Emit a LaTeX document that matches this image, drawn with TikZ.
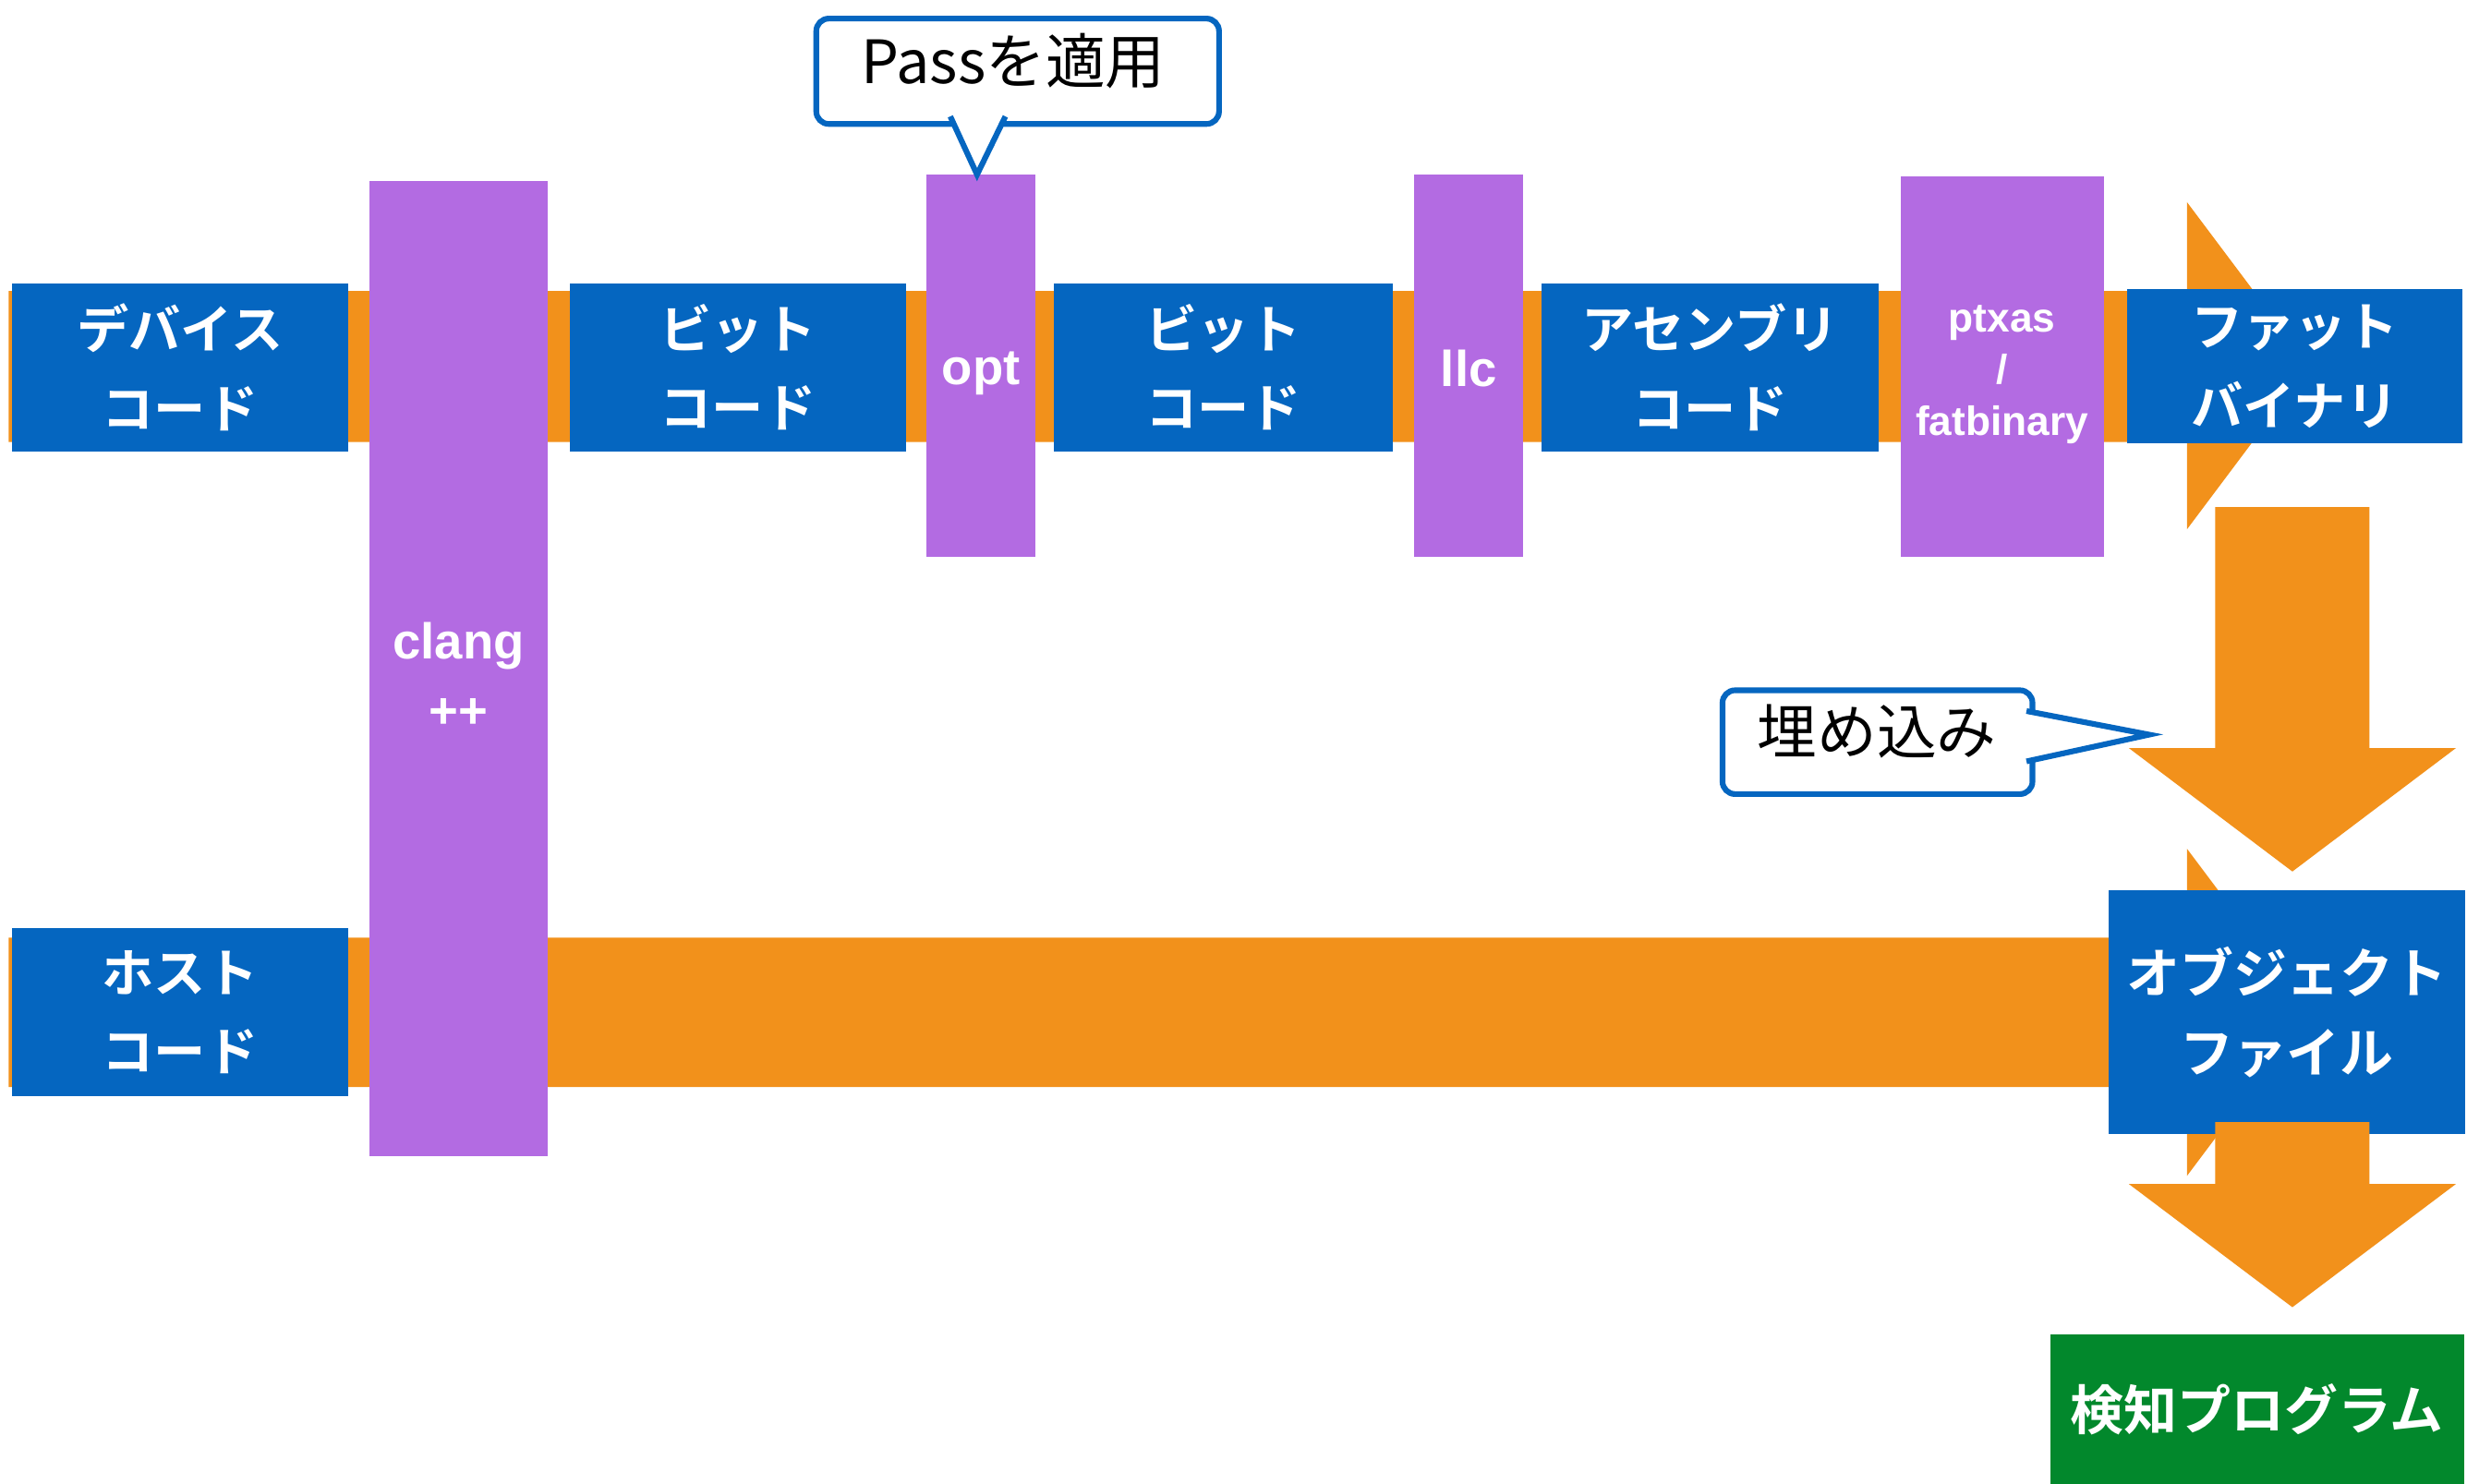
\documentclass[tikz,border=0pt]{standalone}
\usepackage{fontspec}
\newfontfamily\jp{Noto Sans CJK JP}
\newfontfamily\jpb{Noto Sans CJK JP Bold}
\newfontfamily\lat{Liberation Sans}
\usetikzlibrary{calc,backgrounds}
\definecolor{cblue}{RGB}{5,102,192}
\definecolor{corange}{RGB}{242,145,27}
\definecolor{cpurple}{RGB}{179,107,226}
\definecolor{cgreen}{RGB}{2,136,44}
\begin{document}
\begin{tikzpicture}[x=1pt,y=-1pt,
  bluebox/.style={fill=cblue, text=white, inner sep=0pt, outer sep=0pt, anchor=north west, align=center, font=\jpb\fontsize{33}{50}\selectfont},
  tool/.style={fill=cpurple, inner sep=0pt, outer sep=0pt, anchor=north west},
  tooltext/.style={text=white, inner sep=0pt, align=center, font=\lat\bfseries\fontsize{32}{44}\selectfont},
  flow/.style={fill=corange},
  downarrow/.style={fill=corange},
  calloutbox/.style={draw=cblue, line width=3.6pt, fill=white, rounded corners=8pt, inner sep=0pt, anchor=north west},
  callouttext/.style={text=black, inner sep=0pt, font=\jp\fontsize{38}{38}\selectfont},
  pointer/.style={draw=cblue, line width=3.6pt, fill=white, line join=miter},
]
\useasboundingbox (0,0) rectangle (1568,943);

% top row
\node[bluebox, minimum width=214pt, minimum height=107pt] (dev) at (7.5,180) {デバイス\\コード};
\node[tool, minimum width=113pt, minimum height=620pt] (clang) at (235,115) {};
\node[tooltext] (clangL) at ([yshift=-4.5pt]clang.center) {clang\\++};
\node[bluebox, minimum width=214pt, minimum height=107pt] (bit1) at (362,180) {ビット\\コード};
\node[tool, minimum width=69pt, minimum height=243pt] (opt) at (589,111) {};
\node[tooltext] (optL) at ([yshift=-5pt]opt.center) {opt};
\node[bluebox, minimum width=215pt, minimum height=107pt] (bit2) at (670,180) {ビット\\コード};
\node[tool, minimum width=69pt, minimum height=243pt] (llc) at (899,111) {};
\node[tooltext] (llcL) at ([yshift=-2pt]llc.center) {llc};
\node[bluebox, minimum width=214pt, minimum height=107pt] (asm) at (980,180) {アセンブリ\\コード};
\node[tool, minimum width=129pt, minimum height=242pt] (ptx) at (1208,112) {};
\node[tooltext, font=\lat\bfseries\fontsize{26}{33}\selectfont] (ptxL) at ([yshift=-5pt]ptx.center) {ptxas\\/\\fatbinary};
\node[bluebox, minimum width=213pt, minimum height=98pt] (fat) at (1352,184) {ファット\\バイナリ};

% host row
\node[bluebox, minimum width=214pt, minimum height=107pt] (host) at (7.5,590) {ホスト\\コード};
\node[bluebox, minimum width=227pt, minimum height=155pt, font=\jpb\fontsize{34}{51}\selectfont] (obj) at (1340,566) {オブジェクト\\ファイル};
\node[bluebox, fill=cgreen, minimum width=263pt, minimum height=96pt, font=\jpb\fontsize{34}{51}\selectfont] (det) at (1303,848) {検知プログラム};

% flows behind
\coordinate (s1) at ([xshift=-2pt]dev.west);
\coordinate (s2) at ([xshift=-2pt]host.west);
\begin{pgfonlayer}{background}
\fill[white] (0,0) rectangle (1568,943);
\fill[flow] (s1 |- 0,185) -- (1390,185) -- (1390,128.5) -- (1468,232.5) -- (1390,336.5) -- (1390,281) -- (s1 |- 0,281) -- cycle;
\fill[flow] (s2 |- 0,596) -- (1390,596) -- (1390,539.5) -- (1468,643.5) -- (1390,747.5) -- (1390,691) -- (s2 |- 0,691) -- cycle;
\end{pgfonlayer}

% down arrows
\coordinate (d1top) at (1457,322.3);
\coordinate (d1tip) at (1457,554);
\fill[downarrow] (d1top) ++(-49,0) -- ++(98,0) -- ++(0,153.2) -- ++(55,0) -- (d1tip) -- ++(-104,-78.5) -- ++(55,0) -- cycle;
\coordinate (d2top) at (1457,713.3);
\coordinate (d2tip) at (1457,831);
\fill[downarrow] (d2top) ++(-49,0) -- ++(98,0) -- ++(0,39.3) -- ++(55,0) -- (d2tip) -- ++(-104,-78.4) -- ++(55,0) -- cycle;

% callout: Pass
\node[calloutbox, minimum width=256pt, minimum height=67pt] (passbox) at (517,10) {};
\coordinate (passtip) at ([xshift=-2.5pt]opt.north);
\filldraw[pointer] (604,74) -- (passtip) -- (639,74);
\node[callouttext] (pass) at (644,39) {Passを適用};

% callout: embed
\node[calloutbox, minimum width=197pt, minimum height=66pt] (embbox) at (1093,437) {};
\coordinate (embtip) at (1366,467);
\filldraw[pointer] (1288,452) -- (embtip) -- (1288,484);
\node[callouttext] (emb) at (1193,465) {埋め込み};
\end{tikzpicture}
\end{document}
